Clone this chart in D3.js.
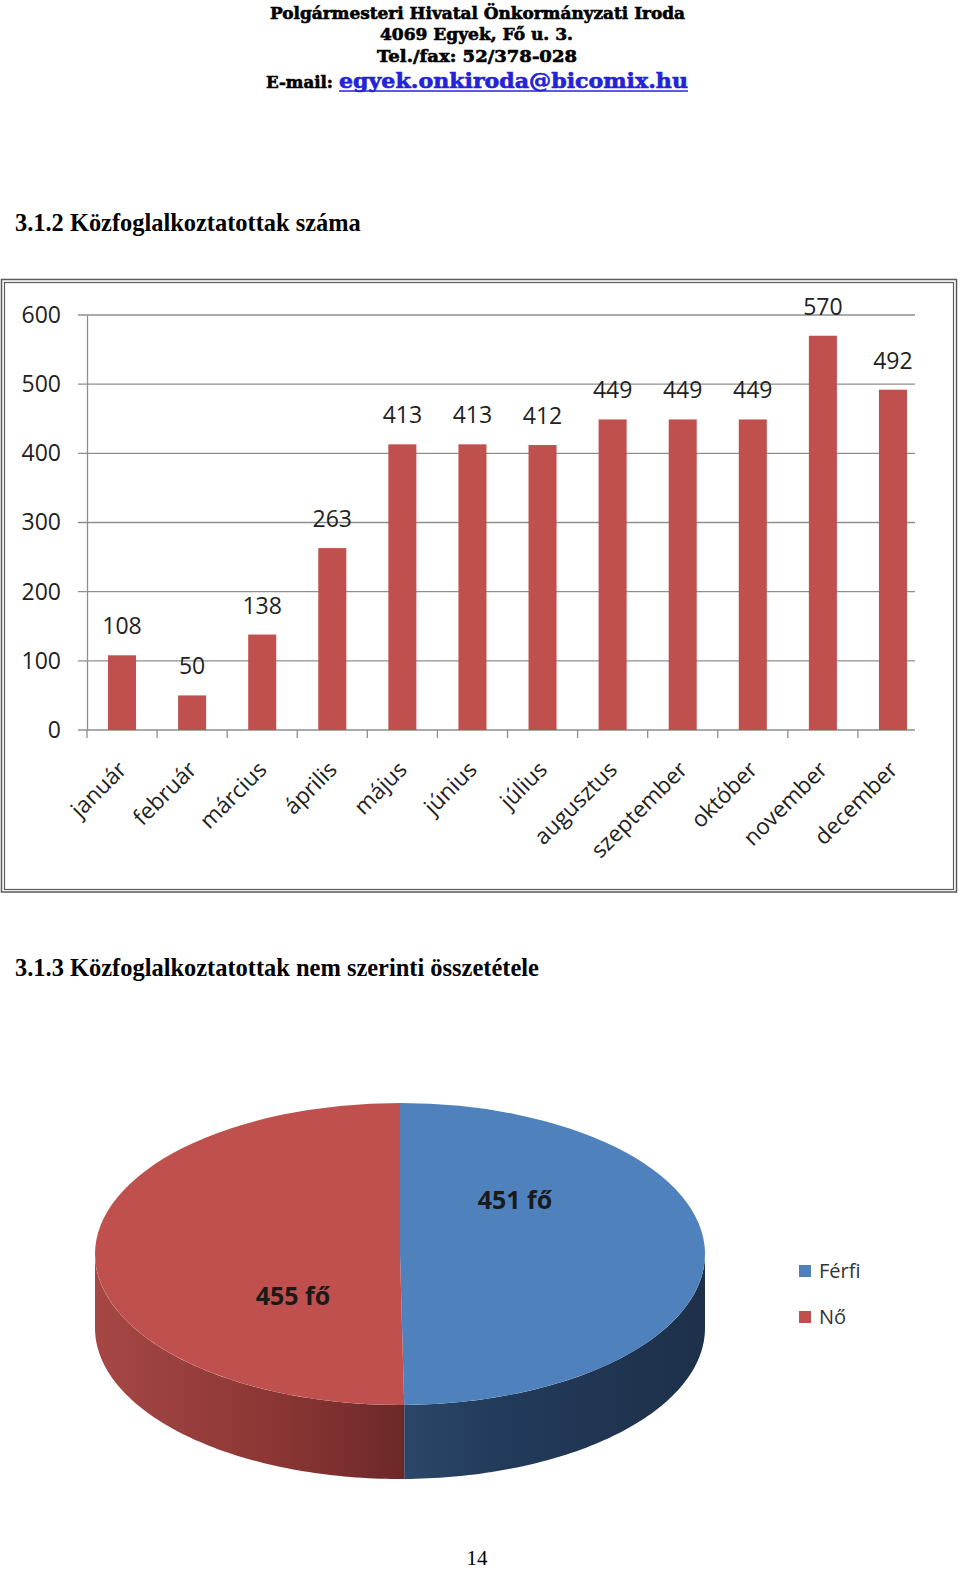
<!DOCTYPE html>
<html><head><meta charset="utf-8">
<script src="https://cdn.jsdelivr.net/npm/d3@7"></script>
<style>body{margin:0;background:#fff}svg{display:block}</style>
</head><body><svg id="c" width="960" height="1571"></svg>
<script>
const headerLines = ["Polgármesteri Hivatal Önkormányzati Iroda","4069 Egyek, Fő u. 3.","Tel./fax: 52/378-028"];
const emailLabel = "E-mail:";
const emailAddress = "egyek.onkiroda@bicomix.hu";
const title1 = "3.1.2 Közfoglalkoztatottak száma";
const title2 = "3.1.3 Közfoglalkoztatottak nem szerinti összetétele";
const months = ["január","február","március","április","május","június","július","augusztus","szeptember","október","november","december"];
const counts = [108,50,138,263,413,413,412,449,449,449,570,492];
const yTicks = [0,100,200,300,400,500,600];
const genders = ["Férfi","Nő"];
const genderCounts = [451,455];
const genderLabels = ["451 fő","455 fő"];
const genderColors = ["#4F81BD","#C0504D"];
const pageNumber = "14";

const svg = d3.select("#c");
const CAL = "'Open Sans', 'Noto Sans', sans-serif";

// ---------- header ----------
const HF = "'DejaVu Serif', serif";
const hdr = [{t:headerLines[0],x0:270,x1:685,y:18.5},{t:headerLines[1],x0:380,x1:573,y:40},{t:headerLines[2],x0:377,x1:577,y:62}];
hdr.forEach(h=>{
  svg.append("text").attr("x",h.x0).attr("y",h.y).text(h.t)
    .attr("font-family",HF).attr("font-weight","bold").attr("font-size",16.5)
    .attr("textLength",h.x1-h.x0).attr("lengthAdjust","spacingAndGlyphs").attr("fill","#000")
    .attr("stroke","#000").attr("stroke-width",0.6);
});
svg.append("text").attr("x",266).attr("y",88).text(emailLabel)
  .attr("font-family",HF).attr("font-weight","bold").attr("font-size",16.5)
  .attr("textLength",67).attr("lengthAdjust","spacingAndGlyphs")
  .attr("stroke","#000").attr("stroke-width",0.6);
svg.append("text").attr("x",339).attr("y",88).text(emailAddress)
  .attr("font-family",HF).attr("font-weight","bold").attr("font-size",20)
  .attr("textLength",349).attr("lengthAdjust","spacingAndGlyphs").attr("fill","#2323d8")
  .attr("stroke","#2323d8").attr("stroke-width",0.6);
svg.append("line").attr("x1",339).attr("x2",688).attr("y1",91).attr("y2",91)
  .attr("stroke","#2323d8").attr("stroke-width",1.5);

// ---------- titles ----------
function fitTitle(t,x,y,w){
  const el = svg.append("text").attr("x",x).attr("y",y).text(t)
    .attr("font-family","'Liberation Serif','Times New Roman',serif").attr("font-weight","bold")
    .attr("font-size",24);
  const len = el.node().getComputedTextLength();
  el.attr("font-size",24*w/len);
}
fitTitle(title1,15,231,346);
fitTitle(title2,15,976,524);

// ---------- bar chart frame ----------
svg.append("rect").attr("x",1.5).attr("y",279.5).attr("width",955).attr("height",612.5)
  .attr("fill","none").attr("stroke","#5a5a5a").attr("stroke-width",1.5);
svg.append("rect").attr("x",4.5).attr("y",282.5).attr("width",949).attr("height",607)
  .attr("fill","none").attr("stroke","#5a5a5a").attr("stroke-width",1.2);

const x = d3.scaleBand().domain(months).range([87,928]).paddingInner(0.6).paddingOuter(0.3);
const y = d3.scaleLinear().domain([0,600]).range([730,315]);
const gridL = 78, gridR = 915, gridColor = "#8e8e8e";

// gridlines
svg.append("g").selectAll("line").data(yTicks).join("line")
  .attr("x1",gridL).attr("x2",gridR).attr("y1",d=>y(d)).attr("y2",d=>y(d))
  .attr("stroke",gridColor).attr("stroke-width",1.3);

// y axis
const yAxis = svg.append("g").attr("transform","translate(87,0)")
  .call(d3.axisLeft(y).tickValues(yTicks).tickSize(0).tickSizeOuter(0).tickPadding(26));
yAxis.select(".domain").attr("stroke",gridColor).attr("stroke-width",1.3);
yAxis.selectAll("text").attr("font-family",CAL).attr("font-size",23).attr("fill","#222");

// x axis ticks
const step = x.step();
svg.append("g").selectAll("line").data(months).join("line")
  .attr("x1",d=>x(d)-step*0.3).attr("x2",d=>x(d)-step*0.3)
  .attr("y1",730).attr("y2",738).attr("stroke",gridColor).attr("stroke-width",1.3);

// bars
svg.append("g").selectAll("rect").data(counts).join("rect")
  .attr("x",(d,i)=>x(months[i])).attr("width",x.bandwidth())
  .attr("y",d=>y(d)).attr("height",d=>y(0)-y(d)).attr("fill","#C0504D");

// value labels
svg.append("g").selectAll("text").data(counts).join("text")
  .attr("x",(d,i)=>x(months[i])+x.bandwidth()/2).attr("y",d=>y(d)-21)
  .attr("text-anchor","middle").attr("font-family",CAL).attr("font-size",23).attr("fill","#222")
  .text(d=>d);

// month labels
svg.append("g").selectAll("text").data(months).join("text")
  .attr("transform",d=>`translate(${x(d)+x.bandwidth()/2+6},771) rotate(-45)`)
  .attr("text-anchor","end").attr("font-family",CAL).attr("font-size",22.5).attr("fill","#222")
  .text(d=>d);

// ---------- 3D pie ----------
const cx=400, cy=1254, rx=305, ry=151, depth=74;
const slices = d3.pie().sort(null).value(d=>d)(genderCounts);
const defs = svg.append("defs");
const g1 = defs.append("linearGradient").attr("id","sideBlue").attr("gradientUnits","userSpaceOnUse")
  .attr("x1",404).attr("x2",705).attr("y1",0).attr("y2",0);
g1.append("stop").attr("offset",0).attr("stop-color","#2b4668");
g1.append("stop").attr("offset",0.35).attr("stop-color","#223a5a");
g1.append("stop").attr("offset",1).attr("stop-color","#1e3049");
const g2 = defs.append("linearGradient").attr("id","sideRed").attr("gradientUnits","userSpaceOnUse")
  .attr("x1",95).attr("x2",404).attr("y1",0).attr("y2",0);
g2.append("stop").attr("offset",0).attr("stop-color","#a64745");
g2.append("stop").attr("offset",0.6).attr("stop-color","#8a3634");
g2.append("stop").attr("offset",1).attr("stop-color","#6c2828");
const sideFill = ["url(#sideBlue)","url(#sideRed)"];

const ex = a => cx + rx*Math.sin(a), ey = a => cy - ry*Math.cos(a);
slices.forEach((s,i)=>{
  const a0 = Math.max(s.startAngle, Math.PI/2), a1 = Math.min(s.endAngle, 3*Math.PI/2);
  if (a1 <= a0) return;
  const N = 80, top=[], bot=[];
  for (let k=0;k<=N;k++){ const a=a0+(a1-a0)*k/N; top.push([ex(a),ey(a)]); bot.push([ex(a),ey(a)+depth]); }
  const pts = top.concat(bot.reverse());
  svg.append("path").attr("d", d3.line()(pts)+"Z").attr("fill",sideFill[i]);
});
const arc = d3.arc().innerRadius(0).outerRadius(rx);
svg.append("g").attr("transform",`translate(${cx},${cy}) scale(1,${ry/rx})`)
  .selectAll("path").data(slices).join("path").attr("d",arc).attr("fill",(d,i)=>genderColors[i]);

// pie labels
const labelPos = [[515,1200],[293,1296]];
svg.append("g").selectAll("text").data(genderLabels).join("text")
  .attr("x",(d,i)=>labelPos[i][0]).attr("y",(d,i)=>labelPos[i][1]).attr("dy","0.35em")
  .attr("text-anchor","middle").attr("font-family",CAL).attr("font-weight","bold")
  .attr("font-size",25).attr("fill","#1a1a1a").text(d=>d);

// legend
const lg = svg.append("g").attr("transform","translate(799,1265)");
genders.forEach((gname,i)=>{
  lg.append("rect").attr("x",0).attr("y",i*46).attr("width",12).attr("height",12).attr("fill",genderColors[i]);
  lg.append("text").attr("x",20).attr("y",i*46+6).attr("dy","0.35em").attr("font-family",CAL)
    .attr("font-size",20).attr("fill","#333").text(gname);
});

// page number
svg.append("text").attr("x",477).attr("y",1565).attr("text-anchor","middle")
  .attr("font-family","'Liberation Serif',serif").attr("font-size",21).text(pageNumber);
</script></body></html>
